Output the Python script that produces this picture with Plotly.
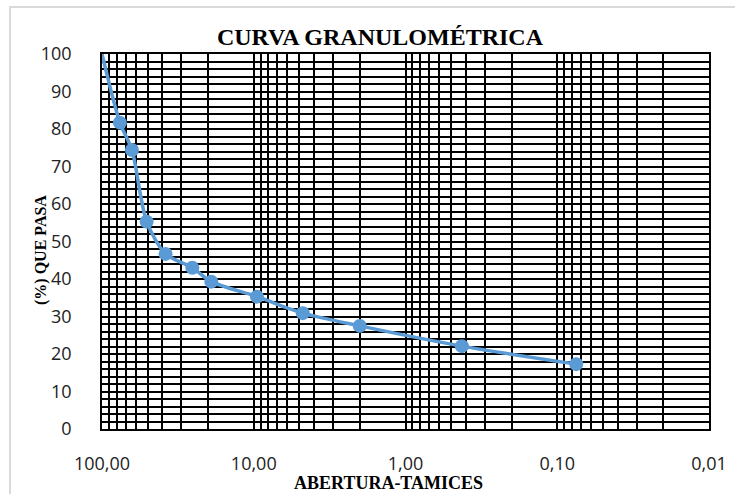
import plotly.graph_objects as go

# Sieve openings (mm) and percent passing
abertura = [100.0, 76.2, 63.5, 50.8, 38.1, 25.4, 19.05, 9.525, 4.75, 2.0, 0.425, 0.075]
pasa = [100.0, 81.7, 74.4, 55.3, 46.7, 43.0, 39.3, 35.3, 30.9, 27.5, 22.1, 17.3]
marker_sizes = [0] + [14] * (len(abertura) - 1)

x_tickvals = [100, 10, 1, 0.1, 0.01]
x_ticktext = ["100,00", "10,00", "1,00", "0,10", "0,01"]
y_tickvals = [0, 10, 20, 30, 40, 50, 60, 70, 80, 90, 100]

title_text = "CURVA GRANULOMÉTRICA"
x_title = "ABERTURA-TAMICES"
y_title = "(%) QUE PASA"

blue = "#5B9BD5"

# plot-area geometry in pixels
L, R, T, B = 102, 709, 54, 429
W, H = R - L, B - T

fig = go.Figure()
fig.add_trace(go.Scatter(
    x=abertura, y=pasa, mode="lines+markers", opacity=1,
    line=dict(color=blue, width=3.5, shape="spline", smoothing=0.8),
    marker=dict(color=blue, size=marker_sizes, opacity=1, line=dict(width=0)),
    showlegend=False, cliponaxis=True,
))

serif = "Liberation Serif"
sans = "Open Sans"

fig.update_layout(
    width=735, height=494,
    margin=dict(l=L, r=735 - R, t=T, b=494 - B, autoexpand=False),
    paper_bgcolor="white", plot_bgcolor="white",
    title=dict(text="<b>" + title_text + "</b>", x=380 / 735, xanchor="center",
               xref="container", yref="container",
               y=1 - 37 / 494, yanchor="middle",
               font=dict(family=serif, size=24, color="black")),
    xaxis=dict(
        type="log", range=[2, -2], automargin=False,
        tickvals=x_tickvals, ticktext=x_ticktext,
        tickfont=dict(family=sans, size=18, color="#222"),
        ticks="", ticklabelstandoff=18,
        showgrid=True, gridcolor="black", gridwidth=1.5,
        minor=dict(dtick="D1", showgrid=True, gridcolor="black", gridwidth=1.5),
        showline=True, linecolor="black", linewidth=1.5, mirror=True,
        zeroline=False,
    ),
    yaxis=dict(
        range=[0, 100], tickvals=y_tickvals, automargin=False,
        tickfont=dict(family=sans, size=18, color="#222"),
        ticks="", ticklabelstandoff=25,
        showgrid=True, gridcolor="black", gridwidth=1.5,
        minor=dict(dtick=2, showgrid=True, gridcolor="black", gridwidth=1.5),
        showline=True, linecolor="black", linewidth=1.5, mirror=True,
        zeroline=False,
    ),
    annotations=[
        dict(text="<b>" + x_title + "</b>", xref="paper", yref="paper",
             x=(388 - L) / W, y=(B - 483) / H, xanchor="center", yanchor="middle",
             showarrow=False, font=dict(family=serif, size=18, color="black")),
        dict(text="<b>" + y_title + "</b>", xref="paper", yref="paper",
             x=(41 - L) / W, y=(B - 250) / H, xanchor="center", yanchor="middle",
             textangle=-90, showarrow=False,
             font=dict(family=serif, size=16, color="black")),
    ],
    shapes=[dict(type="rect", xref="paper", yref="paper",
                 x0=(10 - L) / W, x1=(745 - L) / W,
                 y0=(B - 505) / H, y1=(B - 7) / H,
                 line=dict(color="#d9d9d9", width=2), fillcolor="rgba(0,0,0,0)",
                 layer="below")],
)

fig.write_html("out.html", config={"displayModeBar": False},
               post_script="document.body.style.margin='0px';document.body.style.overflow='hidden';")
